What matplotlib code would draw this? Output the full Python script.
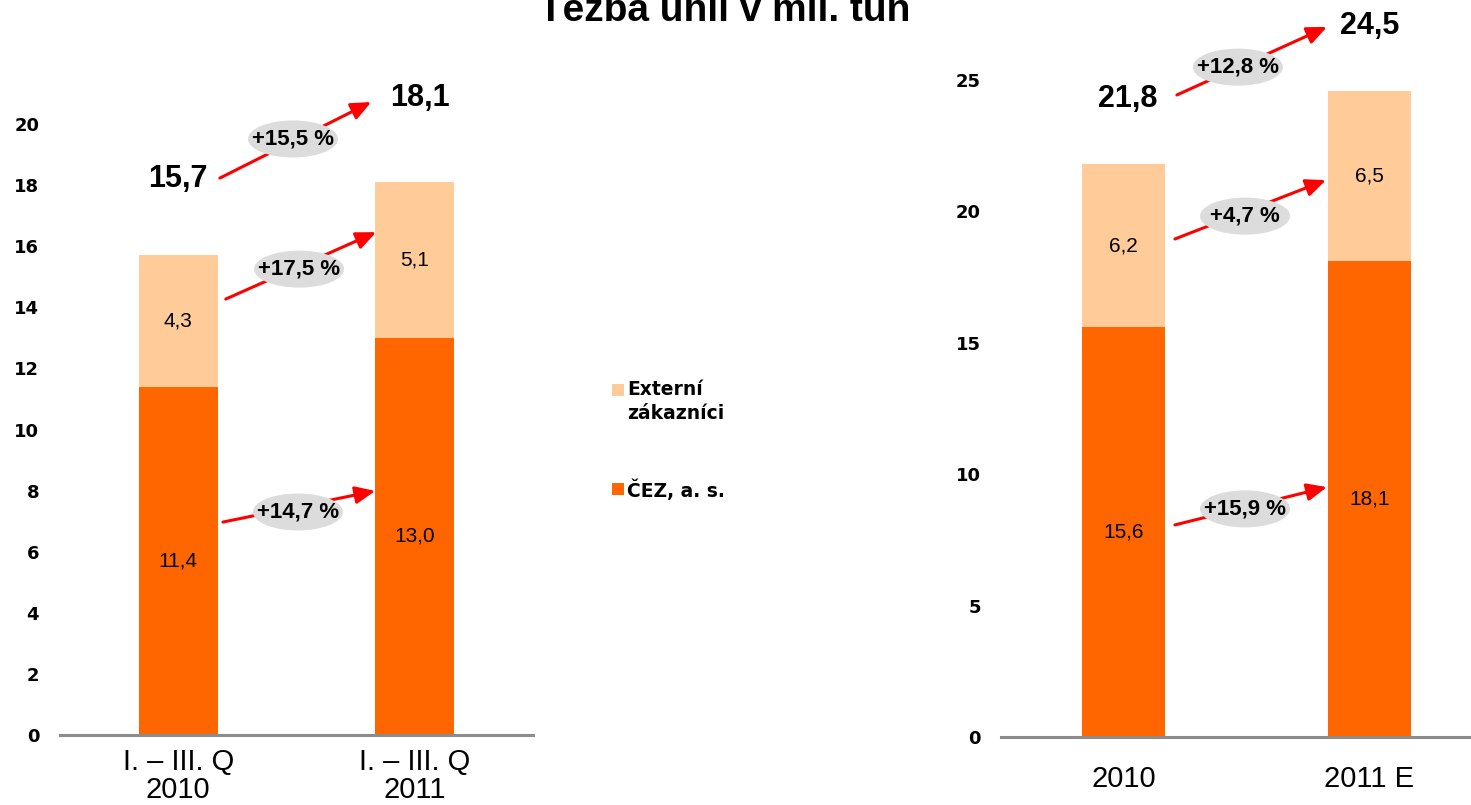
import matplotlib
matplotlib.use('Agg')
import matplotlib.pyplot as plt
from matplotlib.patches import Ellipse, Rectangle

# data
left_cats = ['I. – III. Q\n2010', 'I. – III. Q\n2011']
left_cez = [11.4, 13.0]
left_ext = [4.3, 5.1]
left_totals = ['15,7', '18,1']
left_growth = ['+15,5 %', '+17,5 %', '+14,7 %']   # total, external, CEZ

right_cats = ['2010', '2011 E']
right_cez = [15.6, 18.1]
right_ext = [6.2, 6.5]
right_totals = ['21,8', '24,5']
right_growth = ['+12,8 %', '+4,7 %', '+15,9 %']

title = 'Těžba uhlí v mil. tun'
legend_labels = ['Externí\nzákazníci', 'ČEZ, a. s.']

ORANGE = '#FF6600'
PEACH = '#FFCC99'
GREY = '#8C8C8C'
BADGE = '#DCDCDC'
W, H = 1471, 805

fig = plt.figure(figsize=(W / 100, H / 100), dpi=100)


def fmt(v):
    return ('%.1f' % v).replace('.', ',')


def panel(rect, cats, cez, ext, totals, growth, ymax, ticks, lab_pad, tick_pad, lay):
    ax = fig.add_axes(rect)
    x = [0, 1]
    bw = 0.335
    ax.bar(x, cez, bw, color=ORANGE, zorder=2)
    ax.bar(x, ext, bw, bottom=cez, color=PEACH, zorder=2)
    ax.set_xlim(-0.5, 1.5)
    ax.set_ylim(0, ymax)
    ax.set_yticks(ticks)
    ax.set_yticklabels([str(t) for t in ticks], fontfamily='DejaVu Sans',
                       fontweight='bold', fontsize=13)
    ax.set_xticks(x)
    ax.set_xticklabels(cats, fontfamily='Liberation Sans', fontsize=21)
    for lbl in ax.get_xticklabels():
        lbl.set_linespacing(1.0)
    ax.tick_params(axis='y', length=0, pad=tick_pad)
    ax.tick_params(axis='x', length=0, pad=lab_pad)
    for s in ['left', 'right', 'top']:
        ax.spines[s].set_visible(False)
    ax.spines['bottom'].set_color(GREY)
    ax.spines['bottom'].set_linewidth(2.2)
    ax.set_facecolor('none')

    # values inside bars
    for i in x:
        ax.text(i, cez[i] / 2, fmt(cez[i]), ha='center', va='center',
                fontfamily='Liberation Sans', fontsize=15, zorder=3)
        ax.text(i, cez[i] + ext[i] / 2, fmt(ext[i]), ha='center', va='center',
                fontfamily='Liberation Sans', fontsize=15, zorder=3)

    # totals above
    for i in x:
        ax.text(lay['tot_x'][i], lay['tot_y'][i], totals[i], ha='center', va='center',
                fontfamily='Liberation Sans', fontweight='bold', fontsize=22,
                clip_on=False)

    # pixel size -> data size
    p0 = ax.transData.transform((0, 0))
    p1 = ax.transData.transform((1, 1))
    pxu, pyu = p1[0] - p0[0], p1[1] - p0[1]

    for k in range(3):
        (x0, y0), (x1, y1) = lay['arrows'][k]
        ax.annotate('', xy=(x1, y1), xytext=(x0, y0), annotation_clip=False,
                    arrowprops=dict(arrowstyle='-|>,head_length=0.8,head_width=0.35',
                                    mutation_scale=15, color='red', lw=2.2,
                                    shrinkA=0, shrinkB=0), zorder=4)
        ex, ey = lay['badges'][k]
        ax.add_patch(Ellipse((ex, ey), 90 / pxu, 37 / pyu, facecolor=BADGE,
                             edgecolor='none', zorder=5, clip_on=False))
        ax.text(ex, ey, growth[k], ha='center', va='center', zorder=6,
                fontfamily='Liberation Sans', fontweight='bold', fontsize=16,
                clip_on=False)
    return ax


left_layout = {
    'tot_x': [0.0, 1.02],
    'tot_y': [18.2, 20.85],
    'arrows': [((0.176, 18.23), (0.816, 20.72)),
               ((0.201, 14.27), (0.837, 16.46)),
               ((0.189, 6.97), (0.833, 7.99))],
    'badges': [(0.485, 19.51), (0.511, 15.25), (0.506, 7.30)],
}
right_layout = {
    'tot_x': [0.018, 1.0],
    'tot_y': [24.28, 27.05],
    'arrows': [((0.217, 24.43), (0.827, 27.02)),
               ((0.209, 18.95), (0.823, 21.19)),
               ((0.209, 8.07), (0.827, 9.51))],
    'badges': [(0.465, 25.49), (0.494, 19.82), (0.494, 8.68)],
}

panel([60 / W, 1 - 735 / H, 473 / W, 611 / H], left_cats, left_cez, left_ext,
      left_totals, left_growth, 20, list(range(0, 21, 2)), 9.5, 15, left_layout)
panel([1000.5 / W, 1 - 737 / H, 492 / W, 657 / H], right_cats, right_cez, right_ext,
      right_totals, right_growth, 25, list(range(0, 26, 5)), 20, 14, right_layout)

# title (clipped at the top like the original)
fig.text(724.5 / W, 1 - 21 / H, title, ha='center', va='baseline',
         fontfamily='Liberation Sans', fontweight='bold', fontsize=28)

# legend
for (lab, col, ytop) in [(legend_labels[0], PEACH, 384), (legend_labels[1], ORANGE, 483)]:
    fig.patches.append(Rectangle((612 / W, 1 - (ytop + 12) / H), 12 / W, 12 / H,
                                 transform=fig.transFigure, facecolor=col,
                                 edgecolor='none'))
    fig.text(627 / W, 1 - (ytop - 4) / H, lab, ha='left', va='top',
             fontfamily='DejaVu Sans', fontweight='bold', fontsize=13.5,
             linespacing=1.3)

fig.savefig('out.png', dpi=100)
